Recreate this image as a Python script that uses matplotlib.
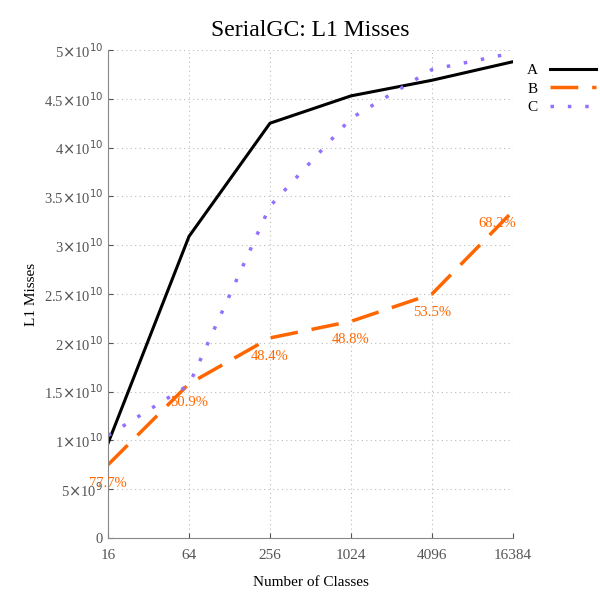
import numpy as np
import matplotlib.pyplot as plt

plt.rcParams['font.family'] = ['Liberation Serif', 'DejaVu Serif']

classes = [16, 64, 256, 1024, 4096, 16384]
miss_a = [0.97e10, 3.09e10, 4.25e10, 4.53e10, 4.69e10, 4.88e10]
miss_b = [0.75e10, 1.58e10, 2.05e10, 2.22e10, 2.50e10, 3.35e10]
miss_c = [1.05e10, 1.57e10, 3.40e10, 4.30e10, 4.80e10, 4.97e10]
pct_labels = ['77.7%', '50.9%', '48.4%', '48.8%', '53.5%', '68.2%']

fig = plt.figure(figsize=(6, 6), dpi=100)
ax = fig.add_axes([108/600, 62/600, 405/600, 488/600])

ax.plot(classes, miss_a, color='black', lw=2.2, label='A')
ax.plot(classes, miss_b, color='#ff6600', lw=2.5, dashes=(8, 4), label='B')
ax.plot(classes, miss_c, color='#9370ff', lw=2.5, dashes=(1, 4), label='C')

for x, y, t in zip(classes, miss_b, pct_labels):
    if x == 16384:
        ax.text(x * 1.05, y - 0.06e10, t, color='#ff6600', fontsize=10.5, ha='right', va='top')
    else:
        ax.text(x, y - 0.12e10, t, color='#ff6600', fontsize=10.5, ha='center', va='top')

ax.set_xscale('log', base=2)
ax.set_xlim(16, 16384)
ax.set_xticks(classes)
ax.set_xticklabels([str(c) for c in classes])
ax.set_ylim(0, 5e10)
yt = np.arange(0, 5.01e10, 0.5e10)
ax.set_yticks(yt)
def fmt(v):
    if v == 0:
        return '0'
    if v < 1e10:
        return r'%g$\times$10$^{9}$' % (v / 1e9)
    return r'%g$\times$10$^{10}$' % (v / 1e10)
ax.set_yticklabels([fmt(v) for v in yt])
ax.minorticks_off()
ax.grid(True, color='#bbbbbb', linestyle=(0, (1, 3)), lw=0.8)
for s in ['top', 'right']:
    ax.spines[s].set_visible(False)
for s in ['left', 'bottom']:
    ax.spines[s].set_color('#888888')
ax.tick_params(colors='#555555', labelsize=10.5, direction='in')
ax.tick_params(axis='x', pad=8, labelsize=11)

ax.set_xlabel('Number of Classes', fontsize=11, labelpad=10)
ax.set_ylabel('L1 Misses', fontsize=11, labelpad=4)
ax.set_title('SerialGC: L1 Misses', fontsize=17, pad=10)

ax.legend(loc='upper left', bbox_to_anchor=(1.0, 1.0), frameon=False, fontsize=11,
          markerfirst=False, handlelength=3.0, labelspacing=0.3)

fig.savefig('out.png', dpi=100)
